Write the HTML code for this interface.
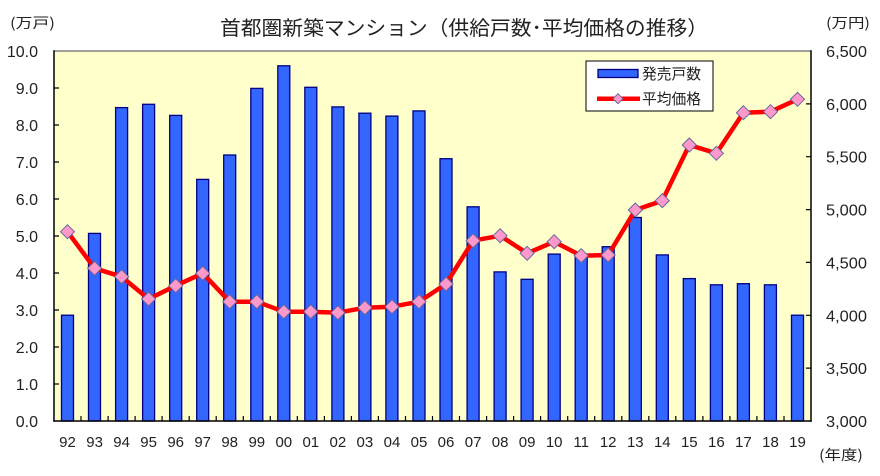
<!DOCTYPE html>
<html><head><meta charset="utf-8"><style>
html,body{margin:0;padding:0;background:#fff;}
svg{display:block;}
text{font-family:"Liberation Sans","Noto Sans CJK JP",sans-serif;fill:#222;}
.jp{font-family:"Noto Sans CJK JP","Liberation Sans",sans-serif;}
</style></head><body>
<svg width="880" height="476" viewBox="0 0 880 476" xmlns="http://www.w3.org/2000/svg">
<rect x="0" y="0" width="880" height="476" fill="#fff"/>
<!-- title -->
<text class="jp" x="220" y="35" font-size="20" textLength="488" lengthAdjust="spacingAndGlyphs">首都圏新築マンション（供給戸数･平均価格の推移）</text>
<text class="jp" x="10" y="28" font-size="14" textLength="45" lengthAdjust="spacingAndGlyphs">(万戸)</text>
<text class="jp" x="826" y="28" font-size="14" textLength="44" lengthAdjust="spacingAndGlyphs">(万円)</text>
<text class="jp" x="819" y="460" font-size="14" textLength="44" lengthAdjust="spacingAndGlyphs">(年度)</text>
<!-- plot area -->
<rect x="54" y="51" width="757" height="370" fill="#FFFFCC"/>
<line x1="54" y1="51" x2="811" y2="51" stroke="#808080" stroke-width="1.5"/>
<!-- bars -->
<g fill="#3366FF" stroke="#000080" stroke-width="1.3">
<rect x="61.5" y="315.2" width="12" height="105.8"/>
<rect x="88.5" y="233.4" width="12" height="187.6"/>
<rect x="115.6" y="107.6" width="12" height="313.4"/>
<rect x="142.6" y="104.3" width="12" height="316.7"/>
<rect x="169.7" y="115.4" width="12" height="305.6"/>
<rect x="196.7" y="179.4" width="12" height="241.6"/>
<rect x="223.7" y="155.0" width="12" height="266.0"/>
<rect x="250.8" y="88.4" width="12" height="332.6"/>
<rect x="277.8" y="65.8" width="12" height="355.2"/>
<rect x="304.8" y="87.3" width="12" height="333.7"/>
<rect x="331.9" y="106.9" width="12" height="314.1"/>
<rect x="358.9" y="113.2" width="12" height="307.8"/>
<rect x="385.9" y="116.1" width="12" height="304.9"/>
<rect x="413.0" y="110.9" width="12" height="310.1"/>
<rect x="440.0" y="158.7" width="12" height="262.3"/>
<rect x="467.1" y="206.8" width="12" height="214.2"/>
<rect x="494.1" y="271.9" width="12" height="149.1"/>
<rect x="521.1" y="279.3" width="12" height="141.7"/>
<rect x="548.2" y="254.1" width="12" height="166.9"/>
<rect x="575.2" y="254.9" width="12" height="166.1"/>
<rect x="602.2" y="246.7" width="12" height="174.3"/>
<rect x="629.3" y="217.5" width="12" height="203.5"/>
<rect x="656.3" y="254.9" width="12" height="166.1"/>
<rect x="683.3" y="278.6" width="12" height="142.4"/>
<rect x="710.4" y="284.8" width="12" height="136.2"/>
<rect x="737.4" y="283.7" width="12" height="137.3"/>
<rect x="764.4" y="284.8" width="12" height="136.2"/>
<rect x="791.5" y="315.2" width="12" height="105.8"/>
</g>
<!-- axes -->
<line x1="54" y1="50.3" x2="54" y2="421.7" stroke="#000" stroke-width="1.5"/>
<line x1="811" y1="50.3" x2="811" y2="421.7" stroke="#000" stroke-width="1.5"/>
<line x1="53.3" y1="421" x2="811.7" y2="421" stroke="#000" stroke-width="1.5"/>
<g stroke="#000" stroke-width="1.2">
<path d="M54 88H59M54 125H59M54 162H59M54 199H59M54 236H59M54 273H59M54 310H59M54 347H59M54 384H59"/>
<path d="M806 103.9H811M806 156.7H811M806 209.6H811M806 262.4H811M806 315.3H811M806 368.1H811"/>
<path d="M81 416V421M108.1 416V421M135.1 416V421M162.1 416V421M189.2 416V421M216.2 416V421M243.3 416V421M270.3 416V421M297.3 416V421M324.4 416V421M351.4 416V421M378.4 416V421M405.5 416V421M432.5 416V421M459.5 416V421M486.6 416V421M513.6 416V421M540.6 416V421M567.7 416V421M594.7 416V421M621.8 416V421M648.8 416V421M675.8 416V421M702.9 416V421M729.9 416V421M756.9 416V421M784 416V421"/>
</g>
<!-- line series -->
<polyline fill="none" stroke="#FF0000" stroke-width="4.5" stroke-linejoin="round" points="67.5,231.7 94.6,268.3 121.6,276.7 148.6,299 175.7,285.7 202.7,273.3 229.7,301.7 256.8,301.7 283.8,311.7 310.8,311.7 337.9,312.7 364.9,307.7 392,306.7 419,301.7 446,284 473.1,240.7 500.1,235.7 527.1,253.3 554.2,241.7 581.2,255.7 608.2,255 635.3,210 662.3,200.7 689.3,145 716.4,153.3 743.4,112.7 770.5,111.7 797.5,99.3"/>
<g fill="#FF99CC" stroke="#666699" stroke-width="1">
<path d="M67.5 224.7l7 7l-7 7l-7-7z"/>
<path d="M94.6 261.3l7 7l-7 7l-7-7z"/>
<path d="M121.6 269.7l7 7l-7 7l-7-7z"/>
<path d="M148.6 292l7 7l-7 7l-7-7z"/>
<path d="M175.7 278.7l7 7l-7 7l-7-7z"/>
<path d="M202.7 266.3l7 7l-7 7l-7-7z"/>
<path d="M229.7 294.7l7 7l-7 7l-7-7z"/>
<path d="M256.8 294.7l7 7l-7 7l-7-7z"/>
<path d="M283.8 304.7l7 7l-7 7l-7-7z"/>
<path d="M310.8 304.7l7 7l-7 7l-7-7z"/>
<path d="M337.9 305.7l7 7l-7 7l-7-7z"/>
<path d="M364.9 300.7l7 7l-7 7l-7-7z"/>
<path d="M392 299.7l7 7l-7 7l-7-7z"/>
<path d="M419 294.7l7 7l-7 7l-7-7z"/>
<path d="M446 277l7 7l-7 7l-7-7z"/>
<path d="M473.1 233.7l7 7l-7 7l-7-7z"/>
<path d="M500.1 228.7l7 7l-7 7l-7-7z"/>
<path d="M527.1 246.3l7 7l-7 7l-7-7z"/>
<path d="M554.2 234.7l7 7l-7 7l-7-7z"/>
<path d="M581.2 248.7l7 7l-7 7l-7-7z"/>
<path d="M608.2 248l7 7l-7 7l-7-7z"/>
<path d="M635.3 203l7 7l-7 7l-7-7z"/>
<path d="M662.3 193.7l7 7l-7 7l-7-7z"/>
<path d="M689.3 138l7 7l-7 7l-7-7z"/>
<path d="M716.4 146.3l7 7l-7 7l-7-7z"/>
<path d="M743.4 105.7l7 7l-7 7l-7-7z"/>
<path d="M770.5 104.7l7 7l-7 7l-7-7z"/>
<path d="M797.5 92.3l7 7l-7 7l-7-7z"/>
</g>
<!-- legend -->
<rect x="586" y="61" width="127" height="50" fill="#fff" stroke="#000" stroke-width="1"/>
<rect x="598" y="69.5" width="40" height="8" fill="#3366FF" stroke="#000080" stroke-width="1.3"/>
<text class="jp" x="642" y="79" font-size="15" textLength="59" lengthAdjust="spacingAndGlyphs">発売戸数</text>
<line x1="597" y1="98.7" x2="640" y2="98.7" stroke="#FF0000" stroke-width="4.5"/>
<path d="M618 93.7l5 5l-5 5l-5-5z" fill="#FF99CC" stroke="#666699" stroke-width="1"/>
<text class="jp" x="642" y="104" font-size="15" textLength="59" lengthAdjust="spacingAndGlyphs">平均価格</text>
<!-- left axis labels -->
<g font-size="16" text-anchor="end">
<text x="38" y="57">10.0</text>
<text x="38" y="94">9.0</text>
<text x="38" y="131">8.0</text>
<text x="38" y="168">7.0</text>
<text x="38" y="205">6.0</text>
<text x="38" y="242">5.0</text>
<text x="38" y="279">4.0</text>
<text x="38" y="316">3.0</text>
<text x="38" y="353">2.0</text>
<text x="38" y="390">1.0</text>
<text x="38" y="427">0.0</text>
</g>
<!-- right axis labels -->
<g font-size="16">
<text x="826" y="57" textLength="41" lengthAdjust="spacingAndGlyphs">6,500</text>
<text x="826" y="109.9" textLength="41" lengthAdjust="spacingAndGlyphs">6,000</text>
<text x="826" y="162.7" textLength="41" lengthAdjust="spacingAndGlyphs">5,500</text>
<text x="826" y="215.6" textLength="41" lengthAdjust="spacingAndGlyphs">5,000</text>
<text x="826" y="268.4" textLength="41" lengthAdjust="spacingAndGlyphs">4,500</text>
<text x="826" y="321.3" textLength="41" lengthAdjust="spacingAndGlyphs">4,000</text>
<text x="826" y="374.1" textLength="41" lengthAdjust="spacingAndGlyphs">3,500</text>
<text x="826" y="427" textLength="41" lengthAdjust="spacingAndGlyphs">3,000</text>
</g>
<!-- x labels -->
<g font-size="15" text-anchor="middle">
<text x="67.5" y="447">92</text>
<text x="94.6" y="447">93</text>
<text x="121.6" y="447">94</text>
<text x="148.6" y="447">95</text>
<text x="175.7" y="447">96</text>
<text x="202.7" y="447">97</text>
<text x="229.7" y="447">98</text>
<text x="256.8" y="447">99</text>
<text x="283.8" y="447">00</text>
<text x="310.8" y="447">01</text>
<text x="337.9" y="447">02</text>
<text x="364.9" y="447">03</text>
<text x="392" y="447">04</text>
<text x="419" y="447">05</text>
<text x="446" y="447">06</text>
<text x="473.1" y="447">07</text>
<text x="500.1" y="447">08</text>
<text x="527.1" y="447">09</text>
<text x="554.2" y="447">10</text>
<text x="581.2" y="447">11</text>
<text x="608.2" y="447">12</text>
<text x="635.3" y="447">13</text>
<text x="662.3" y="447">14</text>
<text x="689.3" y="447">15</text>
<text x="716.4" y="447">16</text>
<text x="743.4" y="447">17</text>
<text x="770.5" y="447">18</text>
<text x="797.5" y="447">19</text>
</g>
</svg>
</body></html>
